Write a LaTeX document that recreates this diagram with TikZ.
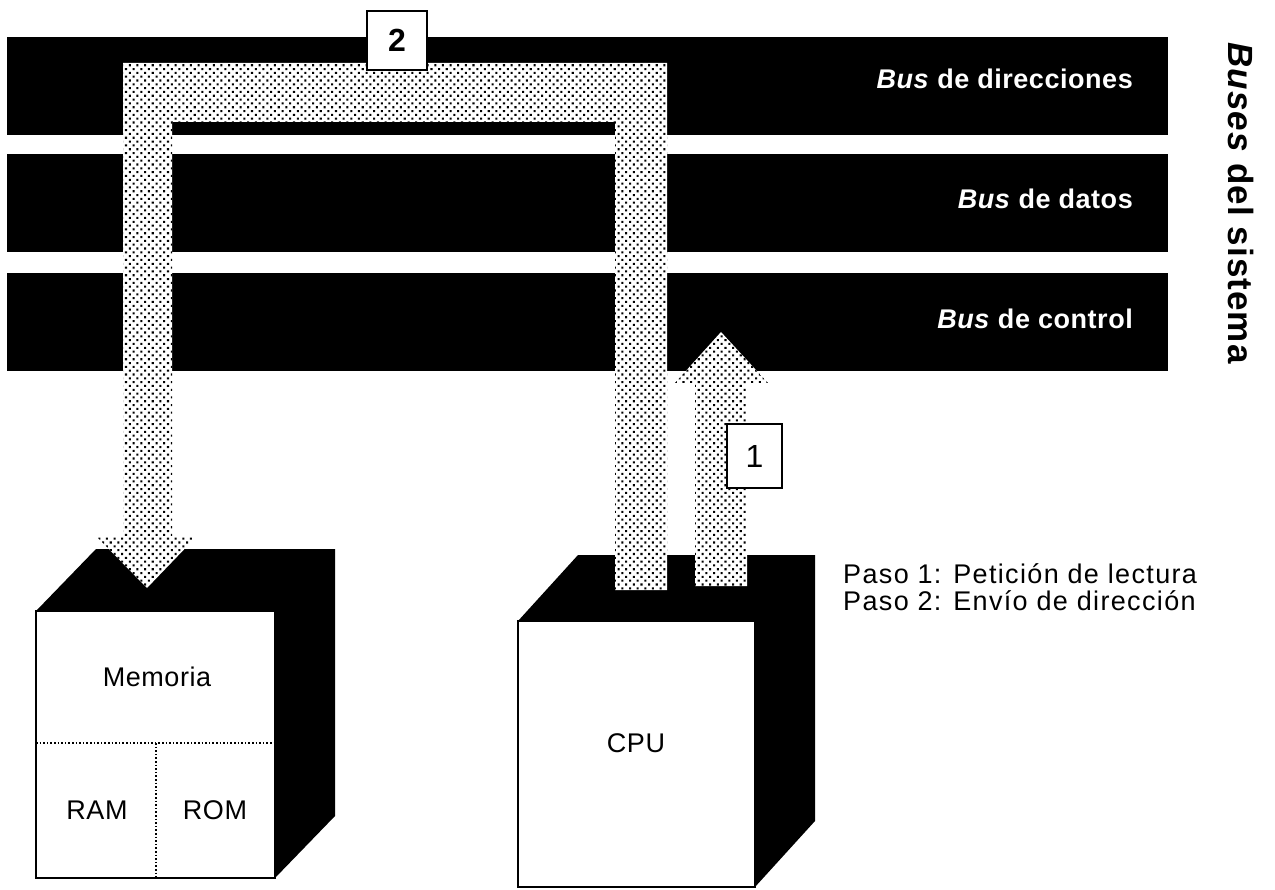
\documentclass[tikz,border=0pt]{standalone}
\usepackage{fontspec}
\setmainfont{Liberation Sans}
\usetikzlibrary{patterns.meta,calc}

\tikzdeclarepattern{
  name=halftone,
  type=uncolored,
  bounding box={(-3pt,-3pt) and (3pt,3pt)},
  tile size={(5.4pt,5.4pt)},
  tile transformation={rotate=45},
  code={\fill (0pt,0pt) circle (1.45pt);}
}

\newcommand\mybusfont{\fontsize{27}{32}\selectfont\bfseries\addfontfeature{LetterSpace=2}}
\newcommand\mytitlefont{\fontsize{35}{40}\selectfont\bfseries\addfontfeature{LetterSpace=3}}
\newcommand\mylegendfont{\fontsize{27}{32}\selectfont\addfontfeature{LetterSpace=5}}
\newcommand\myboxfont{\fontsize{27}{32}\selectfont\addfontfeature{LetterSpace=2}}
\newcommand\mynumfont{\fontsize{32}{38}\selectfont}

\begin{document}
\begin{tikzpicture}[x=1pt,y=-1pt,
  busbar/.style={fill=black},
  cubeside/.style={fill=black},
  cubefront/.style={draw=black,line width=2.2pt,fill=white},
  divider/.style={draw=black,line width=1.6pt,dotted},
  halfarrow/.style={preaction={fill=white},pattern={halftone},pattern color=black},
  numbox/.style={draw=black,line width=2.6pt,fill=white,inner sep=0pt},
  buslabel/.style={text=white,anchor=base east,inner sep=0pt,font=\mybusfont},
  boxlabel/.style={text=black,inner sep=0pt,font=\myboxfont},
  legend/.style={anchor=base west,inner sep=0pt,font=\mylegendfont}
]
\useasboundingbox[fill=white] (0,0) rectangle (1275,890);

% bus bars
\fill[busbar] (7,37) rectangle (1168,135);
\fill[busbar] (7,154) rectangle (1168,252);
\fill[busbar] (7,273) rectangle (1168,371);

\node[buslabel] (lbl1) at (1133,89) {\textit{Bus} de direcciones};
\node[buslabel] (lbl2) at (1133,209) {\textit{Bus} de datos};
\node[buslabel] (lbl3) at (1133,329) {\textit{Bus} de control};

\node[rotate=-90,inner sep=0pt,font=\mytitlefont] (title) at (1241,203) {\textit{Buses} del sistema};

% memory cube
\coordinate (memNW) at (36,611);
\coordinate (memSE) at (275,878);
\fill[cubeside] (memNW) -- ++(60,-62) -| ($(memSE)+(60,-62)$) -- (memSE) -- (memSE|-memNW) -- cycle;
\draw[cubefront] (memNW) rectangle (memSE);
\draw[divider] (36,743) -- (275,743);
\draw[divider] (156,743) -- (156,878);
\node[boxlabel] (memoria) at (157,677) {Memoria};
\node[boxlabel] (ram) at (97,810) {RAM};
\node[boxlabel] (rom) at (215,810) {ROM};

% CPU cube
\coordinate (cpuNW) at (518,621);
\coordinate (cpuSE) at (755,887);
\fill[cubeside] (cpuNW) -- ++(60,-66) -| ($(cpuSE)+(60,-66)$) -- (cpuSE) -- (cpuSE|-cpuNW) -- cycle;
\draw[cubefront] (cpuNW) rectangle (cpuSE);
\node[boxlabel] (cpu) at (636,743) {CPU};

% arrow 2: CPU -> memory over the address bus
\coordinate (a2start) at (641,590);
\coordinate (a2tip) at (147,588);
\fill[halfarrow] (a2start) -- (667,590) -- (667,63) -- (123,63) -- (123,537) -- (97,537)
  -- (a2tip) -- (196,537) -- (172,537) -- (172,122) -- (615,122) -- (615,590) -- cycle;

% arrow 1: CPU -> control bus
\coordinate (a1start) at (721,586);
\coordinate (a1tip) at (721,332);
\fill[halfarrow] (a1start) -- (747,586) -- (747,383) -- (768,383) -- (a1tip) -- (675,383)
  -- (695,383) -- (695,586) -- cycle;

% step boxes
\node[numbox,minimum width=60pt,minimum height=59pt,font=\mynumfont\bfseries] (box2) at (397,40.5) {2};
\node[numbox,minimum width=55pt,minimum height=64pt,font=\mynumfont] (box1) at (754.5,456) {1};

% legend
\node[legend] (leg1) at (843,583) {Paso 1: Petición de lectura};
\node[legend] (leg2) at (843,610) {Paso 2: Envío de dirección};
\end{tikzpicture}
\end{document}
